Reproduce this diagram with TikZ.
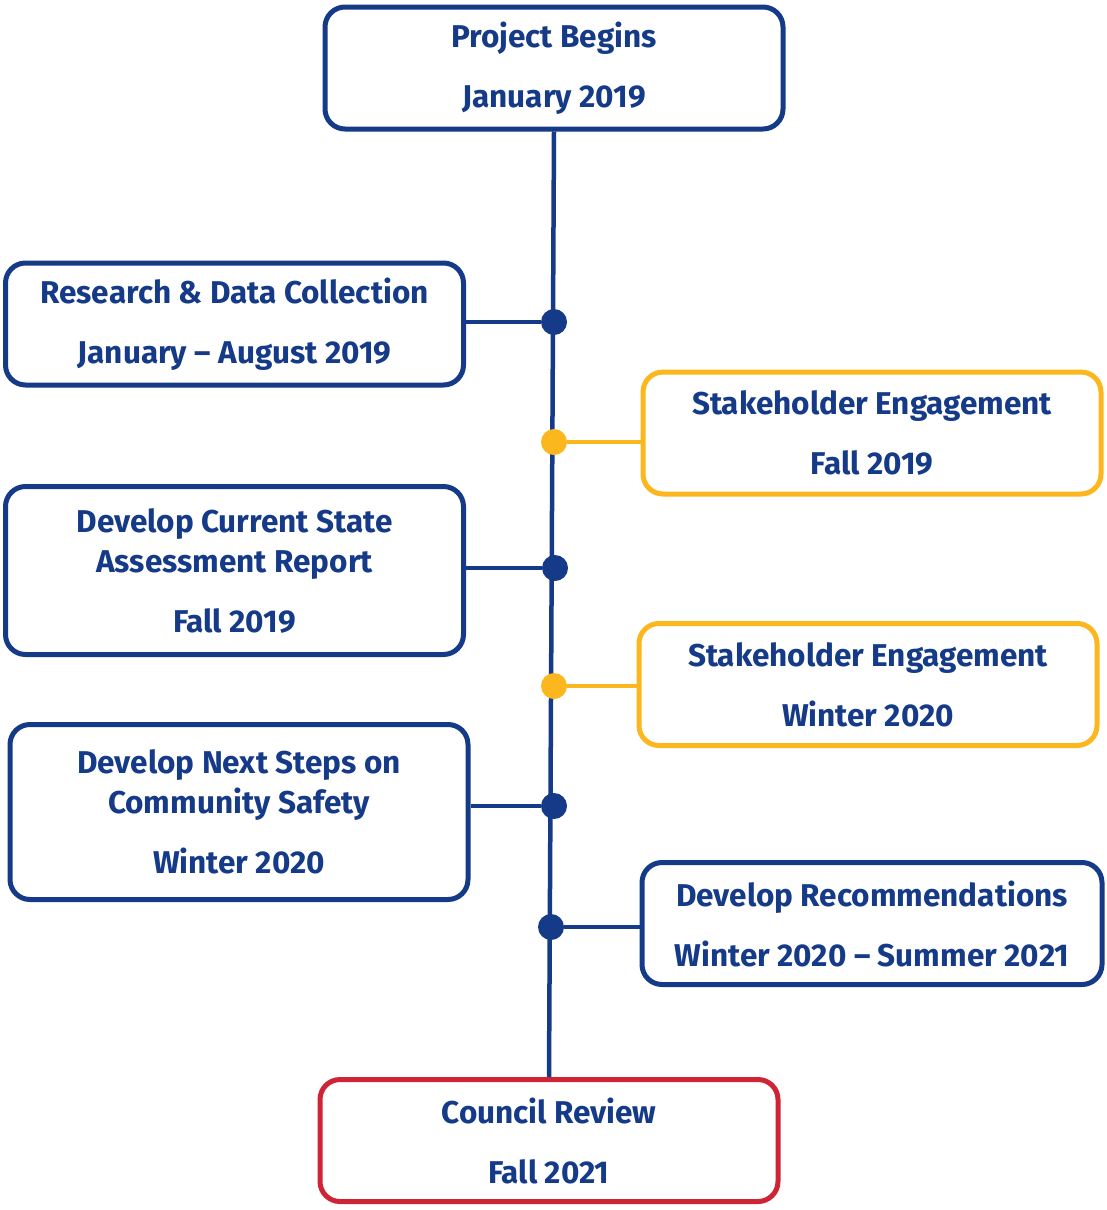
\documentclass[tikz,border=0pt]{standalone}
\usepackage{fontspec}
\setmainfont{Fira Sans}
\usetikzlibrary{positioning}
\definecolor{tlblue}{RGB}{21,58,135}
\definecolor{tlyellow}{RGB}{253,183,30}
\definecolor{tlred}{RGB}{207,35,54}

\begin{document}
\begin{tikzpicture}[x=1pt,y=-1pt,
        stage/.style={draw=#1,line width=5pt,rounded corners=20pt,fill=white,minimum width=458pt,minimum height=122pt,inner sep=0pt,align=center,text=tlblue,font=\fontsize{31.5}{40}\selectfont\bfseries},
        stage/.default=tlblue,
        dot/.style={circle,fill=#1,minimum size=26pt,inner sep=0pt},
        link/.style={draw=#1,line width=4.5pt}]
        \useasboundingbox (0,0) rectangle (1106,1210);
        % stages of the timeline
        \node[stage] (begin) at (554,68) {Project Begins\\[20pt]January 2019};
        \node[stage] (research) at (234.5,324) {Research \& Data Collection\\[20pt]January -- August 2019};
        \node[stage=tlyellow] (engage1) at (872,433) {Stakeholder Engagement\\[20pt]Fall 2019};
        \node[stage,minimum height=168pt] (current) at (234.5,570.5) {Develop Current State\\Assessment Report\\[20pt]Fall 2019};
        \node[stage=tlyellow] (engage2) at (868,684.5) {Stakeholder Engagement\\[20pt]Winter 2020};
        \node[stage,minimum height=175pt] (nextsteps) at (239,812) {Develop Next Steps on\\Community Safety\\[20pt]Winter 2020};
        \node[stage,minimum width=460pt] (recommend) at (872,923.5) {Develop Recommendations\\[20pt]Winter 2020 -- Summer 2021};
        \node[stage=tlred] (council) at (549,1140.5) {Council Review\\[20pt]Fall 2021};
        % spine and dots
        \draw[link=tlblue] (begin.south) -- (council.north);
        \node[dot=tlblue] (d1) at (554,322) {};
        \node[dot=tlyellow] (d2) at (554,442) {};
        \node[dot=tlblue] (d3) at (555,568) {};
        \node[dot=tlyellow] (d4) at (554,686) {};
        \node[dot=tlblue] (d5) at (554,806) {};
        \node[dot=tlblue] (d6) at (551,927) {};
        \draw[link=tlblue] (d1 -| research.east) -- (d1);
        \draw[link=tlyellow] (d2) -- (d2 -| engage1.west);
        \draw[link=tlblue] (d3 -| current.east) -- (d3);
        \draw[link=tlyellow] (d4) -- (d4 -| engage2.west);
        \draw[link=tlblue] (d5 -| nextsteps.east) -- (d5);
        \draw[link=tlblue] (d6) -- (d6 -| recommend.west);
\end{tikzpicture}
\end{document}
